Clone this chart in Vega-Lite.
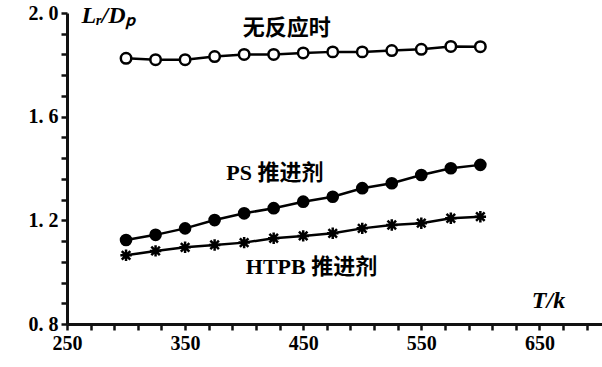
{
  "$schema": "https://vega.github.io/schema/vega-lite/v6.json",
  "width": 535,
  "height": 311,
  "autosize": {"type": "none"},
  "padding": {"left": 67, "top": 13, "right": 0, "bottom": 43},
  "background": "white",
  "config": {
    "view": {"stroke": null},
    "axis": {
      "domainColor": "#111111", "domainWidth": 3,
      "tickColor": "#111111", "tickWidth": 2.5, "tickSize": 6,
      "grid": false, "labelOverlap": false, "labelFlush": false,
      "labelColor": "black", "titleColor": "black",
      "labelFont": "Liberation Serif", "labelFontWeight": "bold", "labelFontSize": 20, "labelPadding": 3,
      "titleFont": "Liberation Serif", "titleFontStyle": "italic", "titleFontWeight": "bold", "titleFontSize": 24
    }
  },
  "datasets": {
    "pts": [
      {"T": 300, "v": 1.825, "s": "none"}, {"T": 325, "v": 1.82, "s": "none"}, {"T": 350, "v": 1.82, "s": "none"},
      {"T": 375, "v": 1.832, "s": "none"}, {"T": 400, "v": 1.84, "s": "none"}, {"T": 425, "v": 1.84, "s": "none"},
      {"T": 450, "v": 1.846, "s": "none"}, {"T": 475, "v": 1.85, "s": "none"}, {"T": 500, "v": 1.85, "s": "none"},
      {"T": 525, "v": 1.855, "s": "none"}, {"T": 550, "v": 1.86, "s": "none"}, {"T": 575, "v": 1.871, "s": "none"},
      {"T": 600, "v": 1.87, "s": "none"},
      {"T": 300, "v": 1.124, "s": "PS"}, {"T": 325, "v": 1.144, "s": "PS"}, {"T": 350, "v": 1.169, "s": "PS"},
      {"T": 375, "v": 1.201, "s": "PS"}, {"T": 400, "v": 1.227, "s": "PS"}, {"T": 425, "v": 1.247, "s": "PS"},
      {"T": 450, "v": 1.272, "s": "PS"}, {"T": 475, "v": 1.291, "s": "PS"}, {"T": 500, "v": 1.324, "s": "PS"},
      {"T": 525, "v": 1.343, "s": "PS"}, {"T": 550, "v": 1.375, "s": "PS"}, {"T": 575, "v": 1.401, "s": "PS"},
      {"T": 600, "v": 1.414, "s": "PS"},
      {"T": 300, "v": 1.065, "s": "HTPB"}, {"T": 325, "v": 1.082, "s": "HTPB"}, {"T": 350, "v": 1.096, "s": "HTPB"},
      {"T": 375, "v": 1.105, "s": "HTPB"}, {"T": 400, "v": 1.114, "s": "HTPB"}, {"T": 425, "v": 1.131, "s": "HTPB"},
      {"T": 450, "v": 1.14, "s": "HTPB"}, {"T": 475, "v": 1.15, "s": "HTPB"}, {"T": 500, "v": 1.169, "s": "HTPB"},
      {"T": 525, "v": 1.182, "s": "HTPB"}, {"T": 550, "v": 1.189, "s": "HTPB"}, {"T": 575, "v": 1.208, "s": "HTPB"},
      {"T": 600, "v": 1.214, "s": "HTPB"}
    ],
    "labels": [
      {"T": 436, "v": 1.942, "txt": "无反应时"},
      {"T": 426, "v": 1.383, "txt": "PS 推进剂"},
      {"T": 457, "v": 1.02, "txt": "HTPB 推进剂"}
    ]
  },
  "encoding": {
    "x": {
      "field": "T", "type": "quantitative",
      "scale": {"domain": [250, 703], "nice": false, "zero": false},
      "axis": {
        "title": "T/k",
        "titleAnchor": "start", "titleAlign": "center", "titleBaseline": "middle", "titleX": 481, "titleY": -24,
        "values": [250, 270, 290, 310, 330, 350, 370, 390, 410, 430, 450, 470, 490, 510, 530, 550, 570, 590, 610, 630, 650, 670, 690],
        "labelExpr": "(datum.value - 250) % 100 == 0 ? datum.label : ''",
        "format": "d"
      }
    },
    "y": {
      "field": "v", "type": "quantitative",
      "scale": {"domain": [0.8, 2.0], "nice": false, "zero": false},
      "axis": {
        "title": "Lᵣ/Dₚ",
        "titleAngle": 0, "titleAlign": "left", "titleBaseline": "middle", "titleX": 14, "titleY": 2,
        "values": [0.8, 0.88, 0.96, 1.04, 1.12, 1.2, 1.28, 1.36, 1.44, 1.52, 1.6, 1.68, 1.76, 1.84, 1.92, 2.0],
        "labelExpr": "(abs(datum.value*10 % 4) < 0.01 || abs(datum.value*10 % 4 - 4) < 0.01) ? replace(format(datum.value, '.1f'), '.', '. ') : ''"
      }
    }
  },
  "layer": [
    {
      "data": {"name": "pts"},
      "mark": {"type": "line", "color": "black", "strokeWidth": 2.5},
      "encoding": {"detail": {"field": "s"}}
    },
    {
      "data": {"name": "pts"},
      "transform": [{"filter": "datum.s == 'none'"}],
      "mark": {"type": "point", "shape": "circle", "filled": true, "fill": "white", "stroke": "black", "strokeWidth": 2.5, "size": 110, "opacity": 1}
    },
    {
      "data": {"name": "pts"},
      "transform": [{"filter": "datum.s == 'PS'"}],
      "mark": {"type": "point", "shape": "circle", "filled": true, "color": "black", "size": 160, "opacity": 1}
    },
    {
      "data": {"name": "pts"},
      "transform": [{"filter": "datum.s == 'HTPB'"}],
      "mark": {"type": "point", "shape": "M-1,0L1,0M0,-1L0,1M-0.75,-0.75L0.75,0.75M-0.75,0.75L0.75,-0.75", "filled": false, "stroke": "black", "strokeWidth": 2.5, "size": 130, "opacity": 1}
    },
    {
      "data": {"name": "labels"},
      "mark": {"type": "text", "font": "Liberation Serif, Noto Sans CJK SC", "fontWeight": "bold", "fontSize": 22, "color": "black", "align": "center", "baseline": "middle"},
      "encoding": {"text": {"field": "txt"}}
    }
  ]
}
